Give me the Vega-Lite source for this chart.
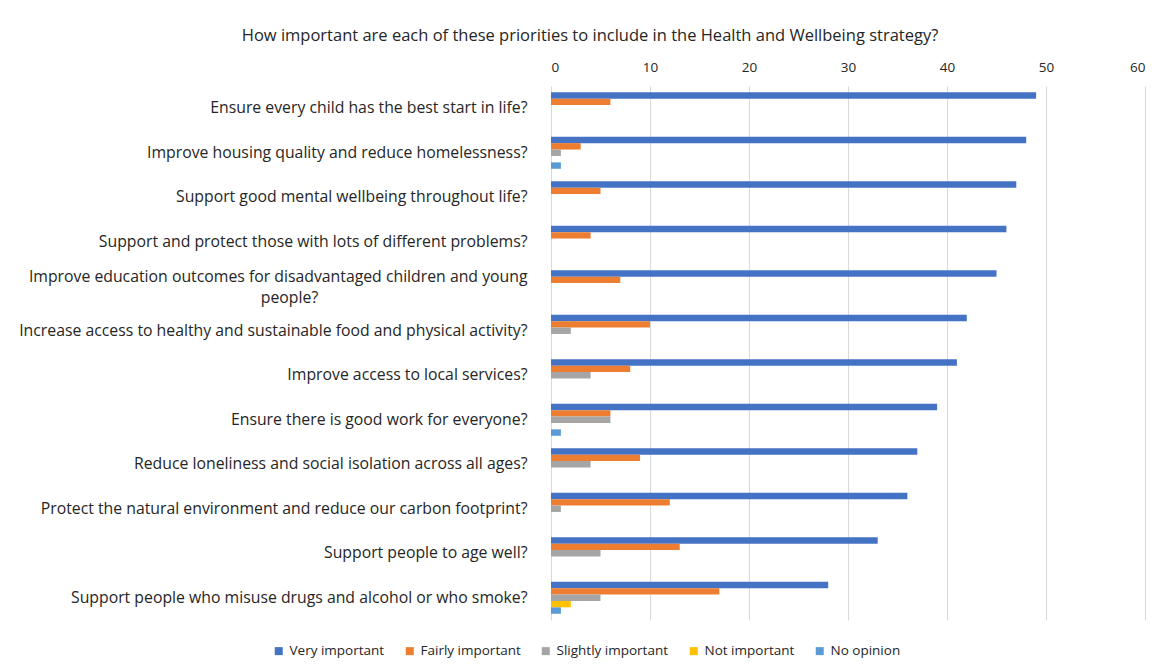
{
  "$schema": "https://vega.github.io/schema/vega-lite/v6.json",
  "width": 594,
  "height": 534,
  "autosize": {"type": "none"},
  "padding": {"left": 551, "top": 86, "right": 12, "bottom": 48},
  "background": "white",
  "title": {
    "text": "How important are each of these priorities to include in the Health and Wellbeing strategy?",
    "anchor": "middle",
    "dx": -258,
    "offset": 16,
    "font": "Open Sans",
    "fontSize": 16.5,
    "fontWeight": "normal",
    "color": "#262626"
  },
  "data": {
    "values": [
      {"category": "Ensure every child has the best start in life?", "series": "Very important", "value": 49},
      {"category": "Ensure every child has the best start in life?", "series": "Fairly important", "value": 6},
      {"category": "Ensure every child has the best start in life?", "series": "Slightly important", "value": 0},
      {"category": "Ensure every child has the best start in life?", "series": "Not important", "value": 0},
      {"category": "Ensure every child has the best start in life?", "series": "No opinion", "value": 0},
      {"category": "Improve housing quality and reduce homelessness?", "series": "Very important", "value": 48},
      {"category": "Improve housing quality and reduce homelessness?", "series": "Fairly important", "value": 3},
      {"category": "Improve housing quality and reduce homelessness?", "series": "Slightly important", "value": 1},
      {"category": "Improve housing quality and reduce homelessness?", "series": "Not important", "value": 0},
      {"category": "Improve housing quality and reduce homelessness?", "series": "No opinion", "value": 1},
      {"category": "Support good mental wellbeing throughout life?", "series": "Very important", "value": 47},
      {"category": "Support good mental wellbeing throughout life?", "series": "Fairly important", "value": 5},
      {"category": "Support good mental wellbeing throughout life?", "series": "Slightly important", "value": 0},
      {"category": "Support good mental wellbeing throughout life?", "series": "Not important", "value": 0},
      {"category": "Support good mental wellbeing throughout life?", "series": "No opinion", "value": 0},
      {"category": "Support and protect those with lots of different problems?", "series": "Very important", "value": 46},
      {"category": "Support and protect those with lots of different problems?", "series": "Fairly important", "value": 4},
      {"category": "Support and protect those with lots of different problems?", "series": "Slightly important", "value": 0},
      {"category": "Support and protect those with lots of different problems?", "series": "Not important", "value": 0},
      {"category": "Support and protect those with lots of different problems?", "series": "No opinion", "value": 0},
      {"category": "Improve education outcomes for disadvantaged children and young people?", "series": "Very important", "value": 45},
      {"category": "Improve education outcomes for disadvantaged children and young people?", "series": "Fairly important", "value": 7},
      {"category": "Improve education outcomes for disadvantaged children and young people?", "series": "Slightly important", "value": 0},
      {"category": "Improve education outcomes for disadvantaged children and young people?", "series": "Not important", "value": 0},
      {"category": "Improve education outcomes for disadvantaged children and young people?", "series": "No opinion", "value": 0},
      {"category": "Increase access to healthy and sustainable food and physical activity?", "series": "Very important", "value": 42},
      {"category": "Increase access to healthy and sustainable food and physical activity?", "series": "Fairly important", "value": 10},
      {"category": "Increase access to healthy and sustainable food and physical activity?", "series": "Slightly important", "value": 2},
      {"category": "Increase access to healthy and sustainable food and physical activity?", "series": "Not important", "value": 0},
      {"category": "Increase access to healthy and sustainable food and physical activity?", "series": "No opinion", "value": 0},
      {"category": "Improve access to local services?", "series": "Very important", "value": 41},
      {"category": "Improve access to local services?", "series": "Fairly important", "value": 8},
      {"category": "Improve access to local services?", "series": "Slightly important", "value": 4},
      {"category": "Improve access to local services?", "series": "Not important", "value": 0},
      {"category": "Improve access to local services?", "series": "No opinion", "value": 0},
      {"category": "Ensure there is good work for everyone?", "series": "Very important", "value": 39},
      {"category": "Ensure there is good work for everyone?", "series": "Fairly important", "value": 6},
      {"category": "Ensure there is good work for everyone?", "series": "Slightly important", "value": 6},
      {"category": "Ensure there is good work for everyone?", "series": "Not important", "value": 0},
      {"category": "Ensure there is good work for everyone?", "series": "No opinion", "value": 1},
      {"category": "Reduce loneliness and social isolation across all ages?", "series": "Very important", "value": 37},
      {"category": "Reduce loneliness and social isolation across all ages?", "series": "Fairly important", "value": 9},
      {"category": "Reduce loneliness and social isolation across all ages?", "series": "Slightly important", "value": 4},
      {"category": "Reduce loneliness and social isolation across all ages?", "series": "Not important", "value": 0},
      {"category": "Reduce loneliness and social isolation across all ages?", "series": "No opinion", "value": 0},
      {"category": "Protect the natural environment and reduce our carbon footprint?", "series": "Very important", "value": 36},
      {"category": "Protect the natural environment and reduce our carbon footprint?", "series": "Fairly important", "value": 12},
      {"category": "Protect the natural environment and reduce our carbon footprint?", "series": "Slightly important", "value": 1},
      {"category": "Protect the natural environment and reduce our carbon footprint?", "series": "Not important", "value": 0},
      {"category": "Protect the natural environment and reduce our carbon footprint?", "series": "No opinion", "value": 0},
      {"category": "Support people to age well?", "series": "Very important", "value": 33},
      {"category": "Support people to age well?", "series": "Fairly important", "value": 13},
      {"category": "Support people to age well?", "series": "Slightly important", "value": 5},
      {"category": "Support people to age well?", "series": "Not important", "value": 0},
      {"category": "Support people to age well?", "series": "No opinion", "value": 0},
      {"category": "Support people who misuse drugs and alcohol or who smoke?", "series": "Very important", "value": 28},
      {"category": "Support people who misuse drugs and alcohol or who smoke?", "series": "Fairly important", "value": 17},
      {"category": "Support people who misuse drugs and alcohol or who smoke?", "series": "Slightly important", "value": 5},
      {"category": "Support people who misuse drugs and alcohol or who smoke?", "series": "Not important", "value": 2},
      {"category": "Support people who misuse drugs and alcohol or who smoke?", "series": "No opinion", "value": 1}
    ]
  },
  "mark": {"type": "bar"},
  "encoding": {
    "y": {
      "field": "category",
      "type": "nominal",
      "sort": null,
      "scale": {"paddingInner": 0.28, "paddingOuter": 0.14},
      "axis": {
        "title": null,
        "ticks": false,
        "domain": false,
        "labelPadding": 24,
        "labelLimit": 600,
        "labelFont": "Open Sans",
        "labelFontSize": 15.8,
        "labelColor": "#262626",
        "labelExpr": "datum.value == 'Improve education outcomes for disadvantaged children and young people?' ? ['Improve education outcomes for disadvantaged children and young', 'people?\u00a0\u00a0\u00a0\u00a0\u00a0\u00a0\u00a0\u00a0\u00a0\u00a0\u00a0\u00a0\u00a0\u00a0\u00a0\u00a0\u00a0\u00a0\u00a0\u00a0\u00a0\u00a0\u00a0\u00a0\u00a0\u00a0\u00a0\u00a0\u00a0\u00a0\u00a0\u00a0\u00a0\u00a0\u00a0\u00a0\u00a0\u00a0\u00a0\u00a0\u00a0\u00a0\u00a0\u00a0\u00a0\u00a0\u00a0\u00a0\u00a0\u00a0\u00a0\u200b'] : datum.value",
        "labelLineHeight": 21,
        "labelOffset": {
          "condition": {"test": "datum.value == 'Improve education outcomes for disadvantaged children and young people?'", "value": -9},
          "value": 0
        }
      }
    },
    "yOffset": {
      "field": "series",
      "type": "nominal",
      "scale": {"domain": ["Very important", "Fairly important", "Slightly important", "Not important", "No opinion"], "paddingInner": 0, "paddingOuter": 0}
    },
    "x": {
      "field": "value",
      "type": "quantitative",
      "scale": {"domain": [0, 60], "nice": false},
      "axis": {
        "orient": "top",
        "title": null,
        "values": [0, 10, 20, 30, 40, 50, 60],
        "ticks": false,
        "domain": false,
        "grid": true,
        "gridColor": "#d9d9d9",
        "gridWidth": 1,
        "labelPadding": 12,
        "labelFont": "Open Sans",
        "labelFontSize": 13.5,
        "labelColor": "#262626"
      }
    },
    "color": {
      "field": "series",
      "type": "nominal",
      "scale": {
        "domain": ["Very important", "Fairly important", "Slightly important", "Not important", "No opinion"],
        "range": ["#4472C4", "#ED7D31", "#A5A5A5", "#FFC000", "#5B9BD5"]
      },
      "legend": {
        "title": null,
        "orient": "none",
        "direction": "horizontal",
        "legendX": -279,
        "legendY": 558,
        "symbolType": "square",
        "symbolSize": 64,
        "symbolStrokeWidth": 0,
        "labelFont": "Open Sans",
        "labelFontSize": 13.5,
        "labelColor": "#262626",
        "labelOffset": 4,
        "columnPadding": 18
      }
    }
  },
  "config": {
    "view": {"stroke": null}
  }
}
